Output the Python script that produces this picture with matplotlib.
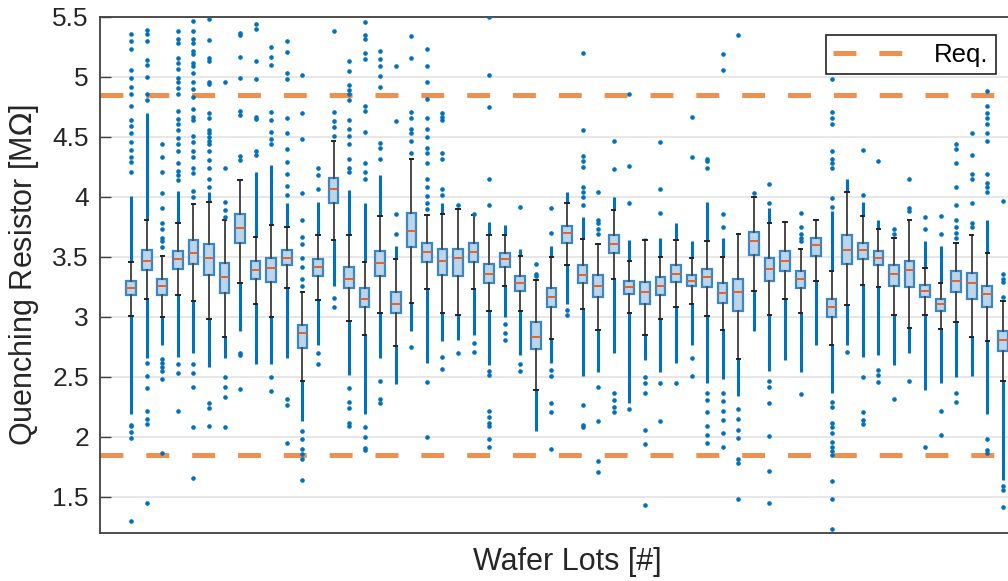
import matplotlib
matplotlib.use("Agg")
import matplotlib.pyplot as plt
from matplotlib.lines import Line2D

plt.rcParams['font.family'] = ['Liberation Sans', 'DejaVu Sans']
plt.rcParams['lines.scale_dashes'] = False

# box statistics per wafer lot
med = [3.24, 3.47, 3.26, 3.48, 3.53, 3.49, 3.33, 3.74, 3.39, 3.41,
       3.49, 2.87, 3.42, 4.07, 3.32, 3.15, 3.45, 3.11, 3.72, 3.54,
       3.47, 3.49, 3.54, 3.36, 3.48, 3.28, 2.83, 3.17, 3.70, 3.35,
       3.26, 3.61, 3.25, 3.21, 3.26, 3.36, 3.30, 3.33, 3.20, 3.21,
       3.63, 3.40, 3.47, 3.32, 3.60, 3.08, 3.56, 3.56, 3.49, 3.36,
       3.39, 3.22, 3.11, 3.30, 3.28, 3.19, 2.81]
q1 = [3.18, 3.39, 3.18, 3.40, 3.44, 3.35, 3.20, 3.62, 3.32, 3.29,
      3.43, 2.74, 3.34, 3.95, 3.24, 3.08, 3.34, 3.03, 3.58, 3.46,
      3.35, 3.34, 3.46, 3.28, 3.42, 3.22, 2.73, 3.08, 3.62, 3.28,
      3.17, 3.53, 3.19, 3.11, 3.18, 3.29, 3.26, 3.25, 3.12, 3.05,
      3.52, 3.30, 3.38, 3.24, 3.51, 3.00, 3.44, 3.48, 3.43, 3.26,
      3.25, 3.17, 3.05, 3.21, 3.15, 3.08, 2.72]
q3 = [3.30, 3.56, 3.32, 3.55, 3.64, 3.61, 3.45, 3.86, 3.47, 3.49,
      3.56, 2.93, 3.48, 4.16, 3.42, 3.24, 3.55, 3.21, 3.87, 3.62,
      3.57, 3.57, 3.62, 3.44, 3.53, 3.34, 2.96, 3.24, 3.76, 3.43,
      3.35, 3.68, 3.30, 3.29, 3.33, 3.43, 3.35, 3.40, 3.28, 3.32,
      3.71, 3.49, 3.55, 3.38, 3.66, 3.15, 3.68, 3.62, 3.55, 3.43,
      3.47, 3.27, 3.15, 3.38, 3.37, 3.26, 2.88]
whis_lo = [3.01, 3.15, 3.00, 3.18, 3.13, 2.98, 2.83, 3.28, 3.11, 3.00,
           3.24, 2.47, 3.14, 3.64, 2.97, 2.85, 3.03, 2.76, 3.12, 3.23,
           3.03, 3.02, 3.23, 3.05, 3.26, 3.05, 2.39, 2.82, 3.43, 3.07,
           2.89, 3.32, 3.03, 2.85, 2.98, 3.08, 3.11, 3.01, 2.89, 2.65,
           3.22, 3.02, 3.15, 3.03, 3.30, 2.77, 3.10, 3.27, 3.25, 3.02,
           2.91, 3.02, 2.90, 2.96, 2.83, 2.80, 2.47]
whis_hi = [3.46, 3.81, 3.51, 3.78, 3.94, 3.96, 3.81, 4.14, 3.67, 3.77,
           3.75, 3.21, 3.68, 4.47, 3.68, 3.46, 3.84, 3.48, 4.32, 3.85,
           3.86, 3.90, 3.85, 3.68, 3.68, 3.51, 3.31, 3.50, 3.95, 3.65,
           3.61, 3.89, 3.47, 3.64, 3.50, 3.64, 3.49, 3.63, 3.50, 3.69,
           4.00, 3.78, 3.79, 3.57, 3.81, 3.38, 4.04, 3.84, 3.73, 3.66,
           3.81, 3.41, 3.28, 3.62, 3.68, 3.53, 3.13]
# ends of the dense runs of outliers above / below the whiskers
dense_hi = [4.01, 4.70, 3.51, 4.05, 3.94, 4.04, 3.81, 4.14, 4.21, 4.27,
            3.95, 3.21, 3.96, 4.47, 4.06, 3.95, 4.18, 3.59, 4.32, 3.85,
            3.95, 3.90, 3.85, 3.79, 3.77, 3.57, 3.31, 3.59, 4.04, 3.83,
            3.61, 4.00, 3.64, 3.66, 3.66, 3.78, 3.63, 3.96, 3.66, 3.69,
            4.00, 3.91, 3.79, 3.57, 3.81, 3.88, 4.15, 3.96, 3.81, 3.66,
            3.81, 3.63, 3.59, 3.62, 3.68, 3.81, 3.13]
dense_lo = [2.19, 2.66, 2.77, 2.67, 2.70, 2.58, 2.66, 2.88, 2.61, 2.61,
            2.66, 2.13, 2.77, 3.26, 2.52, 2.19, 2.66, 2.44, 2.88, 2.62,
            2.80, 2.81, 2.85, 2.60, 3.00, 2.68, 2.05, 2.62, 3.11, 2.51,
            2.54, 2.70, 2.28, 2.64, 2.54, 2.62, 2.77, 2.45, 2.48, 2.34,
            2.88, 2.55, 2.64, 2.54, 2.77, 2.37, 2.77, 2.67, 2.68, 2.60,
            2.70, 2.39, 2.45, 2.50, 2.51, 2.19, 1.64]
# isolated outliers
fliers = [
    [5.36, 5.30, 5.23, 5.06, 4.99, 4.92, 4.86, 4.76, 4.64, 4.59, 4.53, 4.46, 4.39, 4.33, 4.29, 4.21, 2.10, 2.09, 2.04, 1.99, 1.30],
    [5.39, 5.36, 5.30, 5.14, 5.10, 5.00, 4.86, 4.81, 2.62, 2.51, 2.41, 2.22, 2.15, 2.11, 1.45],
    [4.44, 4.33, 4.21, 4.03, 3.91, 3.78, 3.73, 3.66, 3.63, 3.58, 2.65, 2.62, 2.58, 2.55, 2.48, 1.87],
    [5.38, 5.32, 5.28, 5.16, 5.12, 5.07, 4.99, 4.96, 4.91, 4.86, 4.72, 4.65, 4.61, 4.56, 4.49, 4.44, 4.38, 4.28, 4.22, 4.18, 4.14, 2.61, 2.53, 2.22],
    [5.47, 5.38, 5.32, 5.28, 5.22, 5.19, 5.12, 5.09, 5.03, 4.96, 4.90, 4.83, 4.73, 4.67, 4.64, 4.51, 4.46, 4.38, 4.33, 4.24, 4.20, 4.05, 4.00, 2.61, 2.53, 2.42, 2.08, 1.66],
    [5.48, 5.31, 5.16, 5.13, 4.96, 4.94, 4.70, 4.66, 4.56, 4.53, 4.50, 4.47, 4.44, 4.38, 4.31, 4.24, 4.15, 4.08, 2.28, 2.24, 2.09],
    [4.96, 4.24, 3.96, 3.89, 3.83, 2.50, 2.42, 2.33, 2.08],
    [5.37, 5.35, 5.17, 4.99, 4.72, 4.68, 4.34, 4.31, 2.70, 2.68, 2.40],
    [5.44, 5.40, 5.13, 4.98, 4.67, 4.65, 4.38, 4.35],
    [5.25, 5.17, 5.10, 4.71, 4.64, 4.54, 4.48, 4.44, 2.50, 2.38],
    [5.30, 5.21, 5.03, 4.98, 4.66, 4.53, 4.40, 4.29, 4.19, 4.09, 4.02, 2.32, 2.27, 1.95],
    [5.02, 4.70, 4.48, 4.03, 3.81, 3.67, 3.61, 3.49, 3.42, 3.32, 3.26, 2.05, 1.98, 1.90, 1.86, 1.82, 1.64],
    [4.24, 4.18, 4.07, 2.70, 2.61],
    [5.38, 4.71, 4.63, 4.58, 4.51, 3.16, 3.08],
    [5.13, 5.05, 4.93, 4.89, 4.86, 4.81, 4.64, 4.57, 4.51, 4.44, 4.32, 4.24, 4.21, 2.41, 2.29, 2.24, 2.12, 2.09],
    [5.46, 5.35, 5.32, 5.20, 5.15, 4.76, 4.72, 4.54, 4.28, 4.21, 4.15, 2.08, 2.00, 1.91, 1.89],
    [5.22, 5.15, 5.09, 5.01, 4.92, 4.45, 4.41, 4.32, 2.47, 2.32, 2.28],
    [5.09, 4.63, 3.86, 3.69],
    [5.34, 5.16, 4.71, 4.66, 4.57, 4.53, 4.47, 4.37, 2.75],
    [5.23, 5.09, 4.96, 4.82, 4.66, 4.57, 4.50, 4.41, 4.37, 4.28, 4.15, 4.08, 4.01, 3.95, 3.90, 2.46, 2.00],
    [4.70, 4.67, 4.64, 4.37, 4.32, 4.07, 4.02, 2.67, 2.57],
    [3.93, 2.70],
    [3.86, 2.78, 2.71],
    [5.50, 5.02, 4.75, 4.15, 3.93, 2.55, 2.52, 2.22, 2.17, 2.12, 2.09, 1.98, 1.92],
    [2.94, 2.87, 2.81],
    [3.92, 2.61, 2.55],
    [3.44, 3.36, 3.34],
    [3.91, 3.70, 2.56, 2.51, 2.28, 2.21, 1.90],
    [3.06, 3.02],
    [5.20, 4.56, 4.34, 4.30, 4.25, 4.08, 4.04, 4.00, 3.93, 2.27, 2.10, 2.08],
    [4.04, 3.81, 3.78, 3.73, 3.69, 2.42, 2.13, 1.80, 1.71],
    [4.47, 4.23, 2.37, 2.31, 2.25, 2.21],
    [4.86, 4.26, 3.95, 2.23],
    [2.50, 2.45, 2.37, 2.06, 1.94, 1.43],
    [4.46, 4.07, 3.87, 2.45, 2.13],
    [2.45],
    [4.67, 4.33, 2.66, 2.51],
    [4.32, 4.30, 4.24, 2.37, 2.31, 2.21, 2.09, 2.02, 1.95],
    [5.19, 5.06, 3.86, 3.75, 2.37, 2.30, 2.22, 2.14, 2.03, 1.92],
    [5.35, 2.23, 2.15, 2.06, 1.99, 1.82, 1.78, 1.48],
    [4.03],
    [4.11, 3.95, 2.47, 2.42, 2.28, 2.01, 1.72, 1.45],
    [],
    [3.87, 3.75, 3.69, 3.66, 3.63, 2.36],
    [],
    [4.98, 4.71, 4.66, 4.61, 4.38, 4.32, 4.28, 4.24, 3.99, 3.92, 2.29, 2.25, 2.12, 2.08, 2.03, 1.96, 1.92, 1.88, 1.85, 1.63, 1.48, 1.23],
    [2.71],
    [4.39, 4.02, 2.50, 2.21, 2.14, 2.11],
    [4.30, 2.56, 2.52, 2.46],
    [3.73, 3.69, 2.32],
    [4.15, 3.91, 3.88, 2.47],
    [3.83, 3.73, 1.92],
    [3.84, 3.69, 2.22, 2.02],
    [4.44, 4.40, 4.28, 4.08, 3.93, 3.81, 3.75, 3.70, 3.66, 2.37, 2.29],
    [4.53, 4.35, 4.19, 4.15, 3.95, 3.78, 3.75],
    [4.88, 4.76, 4.70, 4.66, 4.61, 4.53, 4.47, 4.19, 4.12, 4.08, 4.04, 1.98, 1.89, 1.87],
    [3.97, 3.36, 3.32, 3.29, 3.17, 1.59, 1.56, 1.42],
]
req_limits = [4.85, 1.85]

blue = '#0072BD'
orange = '#EE9150'
positions = list(range(1, len(med) + 1))

fig = plt.figure(figsize=(10.08, 5.81), dpi=100)
# axes runs a bit past the right edge of the image, like the original crop
ax = fig.add_axes([100 / 1008, 48 / 581, 934 / 1008, 516 / 581])

stats = []
for i in range(len(med)):
    stats.append(dict(med=med[i], q1=q1[i], q3=q3[i],
                      whislo=whis_lo[i], whishi=whis_hi[i], fliers=fliers[i]))

# dense outlier runs
for p, lo, hi in zip(positions, whis_hi, dense_hi):
    if hi > lo:
        ax.vlines(p, lo, hi, color=blue, lw=2.2, zorder=2)
for p, hi, lo in zip(positions, whis_lo, dense_lo):
    if lo < hi:
        ax.vlines(p, lo, hi, color=blue, lw=2.2, zorder=2)

ax.bxp(stats, positions=positions, widths=0.62, patch_artist=True,
       capwidths=0.22,
       boxprops=dict(facecolor='#BCD5EA', edgecolor='#3A87C6', linewidth=1.6),
       medianprops=dict(color='#E0622C', linewidth=1.4),
       whiskerprops=dict(color='#4a4a4a', linewidth=1.4),
       capprops=dict(color='#222222', linewidth=1.4),
       flierprops=dict(marker='o', markersize=2.3, markerfacecolor=blue,
                       markeredgecolor=blue, linestyle='none'),
       zorder=3)

for v in req_limits:
    ax.axhline(v, color=orange, lw=3.6, dashes=(16.5, 16.5), zorder=1)

ax.set_xlim(-1, 59)
ax.set_ylim(1.2, 5.5)
ax.set_yticks([1.5, 2, 2.5, 3, 3.5, 4, 4.5, 5, 5.5])
ax.set_yticklabels(['1.5', '2', '2.5', '3', '3.5', '4', '4.5', '5', '5.5'])
ax.set_xticks([])
ax.tick_params(axis='y', direction='in', length=8, width=1, colors='#404040',
               labelcolor='#262626', labelsize=19, pad=8)
ax.grid(axis='y', color='#e3e3e3', lw=1.2, zorder=0)
ax.set_axisbelow(True)
for s in ax.spines.values():
    s.set_color('#404040')
    s.set_linewidth(1.3)

ax.set_ylabel('Quenching Resistor [M$\\Omega$]', fontsize=22, color='#262626', labelpad=8)
ax.set_xlabel('Wafer Lots [#]', fontsize=22, color='#262626', labelpad=10)

handle = Line2D([], [], color=orange, lw=3.6, dashes=(16.5, 16.5))
leg = ax.legend([handle], ['Req.'], loc='upper right', bbox_to_anchor=(0.959, 0.965),
                borderaxespad=0, fontsize=18.5, handlelength=2.7, handletextpad=1.2,
                frameon=True, fancybox=False, edgecolor='#222222', framealpha=1,
                borderpad=0.3)
leg.get_frame().set_linewidth(1.2)

fig.savefig('out.png', dpi=100)
